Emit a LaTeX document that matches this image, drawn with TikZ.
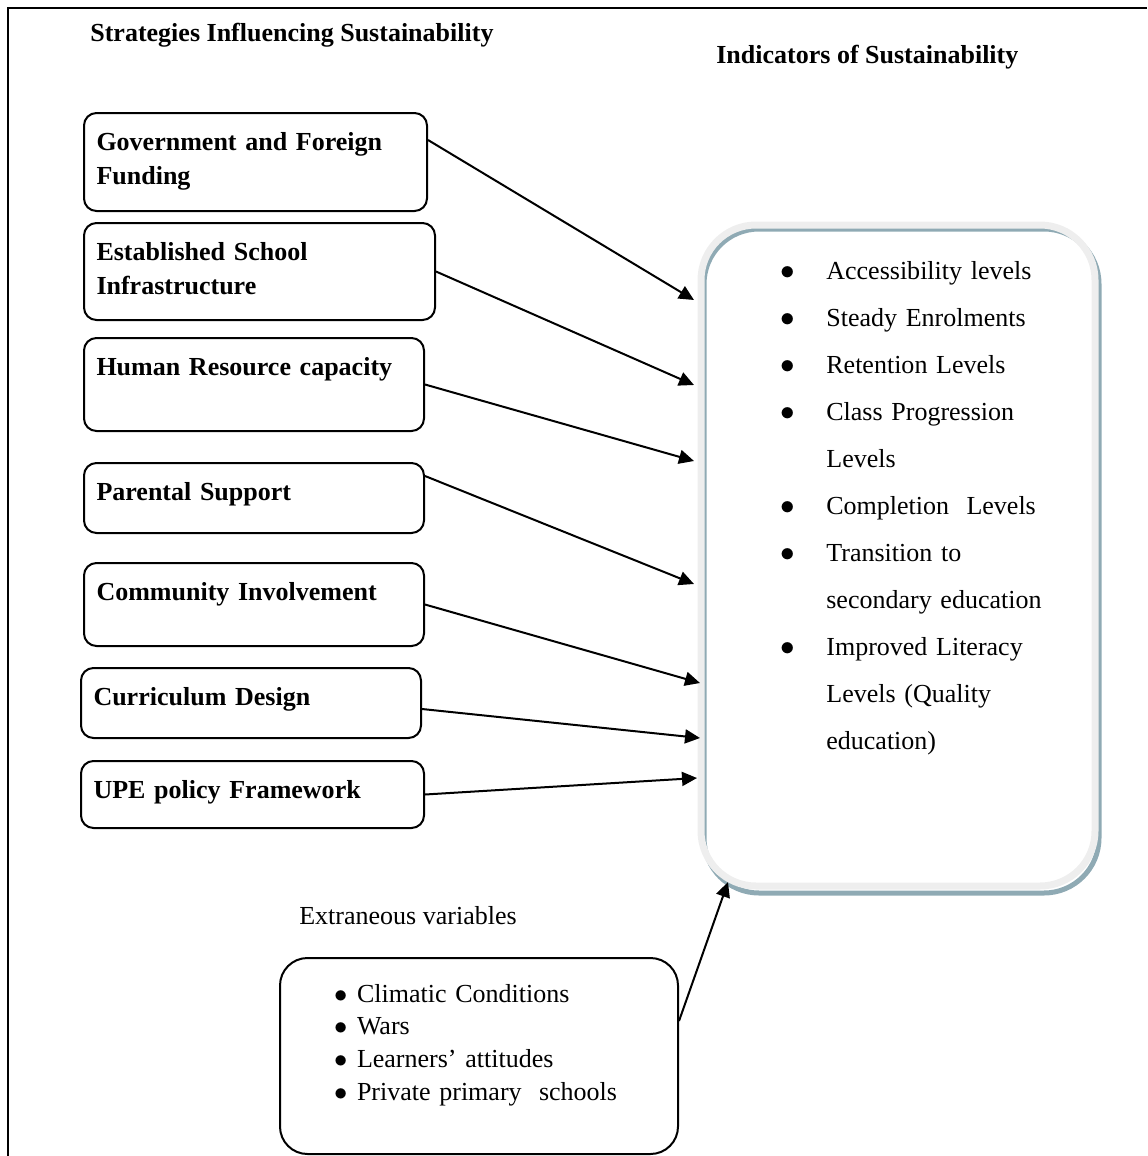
\documentclass[tikz,border=0pt]{standalone}
\usepackage{fontspec}
\setmainfont{Liberation Serif}
\usepackage{xcolor}
\usepackage{tikz}
\usetikzlibrary{arrows.meta}

\definecolor{bevelblue}{RGB}{143,170,180}
\definecolor{bevelgray}{RGB}{238,238,238}

\newcommand{\bodysize}{\fontsize{14.8}{19.8}\selectfont}
\newcommand{\bul}{\makebox[0.92cm][l]{\scalebox{1.15}{$\bullet$}}}
\newcommand{\nobul}{\hspace*{0.92cm}}
\newcommand{\sbul}{\makebox[0.46cm][l]{\scalebox{1.05}{$\bullet$}}}

\begin{document}
\begin{tikzpicture}[
    heading/.style={anchor=base west,inner sep=0pt,font=\bodysize\bfseries},
    stratbox/.style={draw,line width=0.04cm,rounded corners=0.25cm,anchor=north west,
                     align=left,inner xsep=0.25cm,inner ysep=0pt,text height=0.74cm,
                     font=\bodysize\bfseries}]
\useasboundingbox (0,0) rectangle (22.94,-23.12);
\draw[line width=0.04cm] (0.16,-23.12) -- (0.16,-0.16) -- (22.94,-0.16);

\node[heading] (lefthead) at (1.80,-0.84) {Strategies Influencing Sustainability};
\node[heading] (righthead) at (14.32,-1.26) {Indicators of Sustainability};

\begin{scope}
    \node[stratbox,text width=6.36cm,text depth=1.22cm] (gov) at (1.66,-2.24) {Government and Foreign\\Funding};
    \node[stratbox,text width=6.52cm,text depth=1.20cm] (school) at (1.66,-4.44) {Established School\\Infrastructure};
    \node[stratbox,text width=6.30cm,text depth=1.12cm] (human) at (1.66,-6.74) {Human Resource capacity};
    \node[stratbox,text width=6.30cm,text depth=0.66cm] (parent) at (1.66,-9.24) {Parental Support};
    \node[stratbox,text width=6.30cm,text depth=0.92cm] (comm) at (1.66,-11.24) {Community Involvement};
    \node[stratbox,text width=6.30cm,text depth=0.66cm] (curric) at (1.60,-13.34) {Curriculum Design};
    \node[stratbox,text width=6.36cm,text depth=0.60cm] (upe) at (1.60,-15.20) {UPE policy Framework};

    \end{scope}

% indicators box with its bevelled frame
\node[draw=bevelblue,line width=0.1cm,rounded corners=1.1cm,minimum width=7.90cm,
      minimum height=13.28cm,anchor=north west,outer sep=0pt,inner sep=0pt] (indic) at (14.08,-4.58) {};
\draw[bevelgray,line width=0.14cm,rounded corners=1.1cm]
    ([shift={(-0.06,0.08)}]indic.north west) rectangle ([shift={(-0.08,0.14)}]indic.south east);
\node[anchor=base west,align=left,text width=6cm,inner sep=0pt,
      font=\fontsize{14.8}{26.76}\selectfont] (indlist) at ([shift={(1.52,-1.00)}]indic.north west)
    {\bul Accessibility levels\\
     \bul Steady Enrolments\\
     \bul Retention Levels\\
     \bul Class Progression\\
     \nobul Levels\\
     \bul Completion\ \ Levels\\
     \bul Transition to\\
     \nobul secondary education\\
     \bul Improved Literacy\\
     \nobul Levels (Quality\\
     \nobul education)};

\node[anchor=base west,inner sep=0pt,font=\bodysize] (extlabel) at (5.98,-18.48) {Extraneous variables};
\node[draw,line width=0.04cm,rounded corners=0.55cm,anchor=north west,align=left,
      text width=5.8cm,inner xsep=1.08cm,inner ysep=0pt,text height=0.88cm,text depth=3.04cm,
      font=\fontsize{14.8}{18.7}\selectfont] (ext) at (5.58,-19.14)
    {\sbul Climatic Conditions\\
     \sbul Wars\\
     \sbul Learners' attitudes\\
     \sbul Private primary\ \ schools};

\begin{scope}[>={Triangle[length=0.3cm,width=0.28cm]},
              every edge/.style={draw=black,line width=0.04cm}]
    \path [->] ([yshift=-0.56cm]gov.north east) edge ([shift={(-0.2,-1.42)}]indic.north west);
    \path [->] (school.east) edge ([shift={(-0.2,-3.12)}]indic.north west);
    \path [->] (human.east) edge ([shift={(-0.2,-4.64)}]indic.north west);
    \path [->] ([yshift=-0.28cm]parent.north east) edge ([shift={(-0.2,-7.10)}]indic.north west);
    \path [->] (comm.east) edge ([shift={(-0.08,-9.08)}]indic.north west);
    \path [->] ([yshift=-0.12cm]curric.east) edge ([shift={(-0.08,-10.18)}]indic.north west);
    \path [->] (upe.east) edge ([shift={(-0.14,-10.98)}]indic.north west);
    \path [->] ([yshift=0.7cm]ext.east) edge ([shift={(0.48,0.22)}]indic.south west);

    \end{scope}

\end{tikzpicture}
\end{document}
